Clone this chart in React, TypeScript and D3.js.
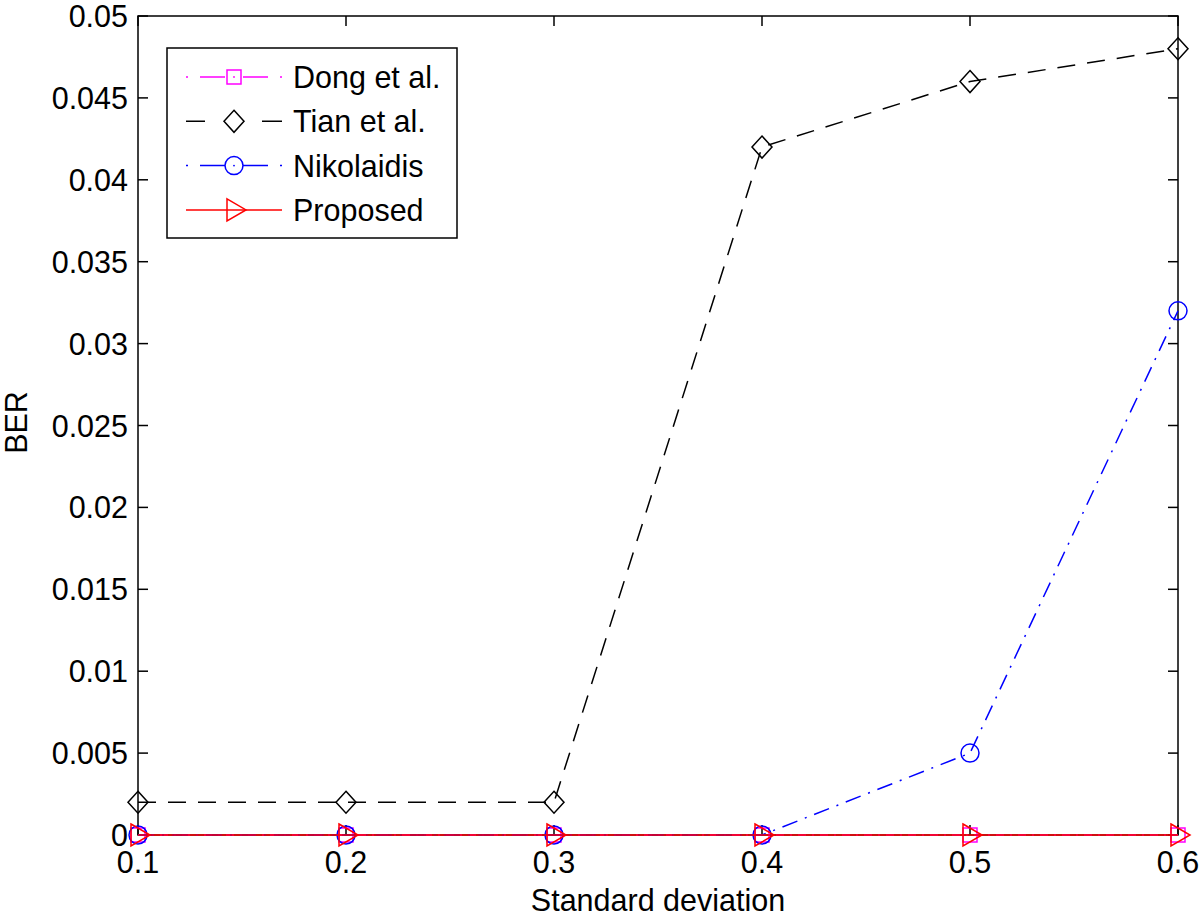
import { useEffect, useRef } from "react";
import * as d3 from "d3";

const stdDev = [0.1, 0.2, 0.3, 0.4, 0.5, 0.6];
const dong = [0, 0, 0, 0, 0, 0];
const tian = [0.002, 0.002, 0.002, 0.042, 0.046, 0.048];
const nikolaidis = [0, 0, 0, 0, 0.005, 0.032];
const proposed = [0, 0, 0, 0, 0, 0];

const xTicks = [0.1, 0.2, 0.3, 0.4, 0.5, 0.6];
const yTicks = [0, 0.005, 0.01, 0.015, 0.02, 0.025, 0.03, 0.035, 0.04, 0.045, 0.05];

const seriesNames = ["Dong et al.", "Tian et al.", "Nikolaidis", "Proposed"];

const App = () => {
  const svgRef = useRef<SVGSVGElement>(null);

  useEffect(() => {
    document.body.style.margin = "0";
    document.body.style.overflow = "hidden";

    const width = 1200;
    const height = 919;
    const margin = { top: 16, right: 22, bottom: 84, left: 138 };
    const font = "'Liberation Sans', Arial, Helvetica, sans-serif";
    const fs = 30.5;

    const svg = d3.select(svgRef.current);
    svg.selectAll("*").remove();

    const x = d3.scaleLinear().domain([0.1, 0.6]).range([margin.left, width - margin.right]);
    const y = d3.scaleLinear().domain([0, 0.05]).range([height - margin.bottom, margin.top]);

    const series = [
      { name: seriesNames[0], values: dong, color: "#ff00ff", dash: "8,6,2,6", marker: "square" },
      { name: seriesNames[1], values: tian, color: "#000000", dash: "18,12", marker: "diamond" },
      { name: seriesNames[2], values: nikolaidis, color: "#0000ff", dash: "16,8,2,8", marker: "circle" },
      { name: seriesNames[3], values: proposed, color: "#ff0000", dash: null, marker: "triangle" },
    ];

    svg.append("rect").attr("width", width).attr("height", height).attr("fill", "#fff");

    const [x0, x1] = x.range();
    const [y0, y1] = y.range();

    // ticks (inside, both sides)
    const tl = 10;
    const ticks = svg.append("g").attr("stroke", "#000").attr("stroke-width", 1.5);
    xTicks.forEach((t) => {
      ticks.append("line").attr("x1", x(t)).attr("x2", x(t)).attr("y1", y0).attr("y2", y0 - tl);
      ticks.append("line").attr("x1", x(t)).attr("x2", x(t)).attr("y1", y1).attr("y2", y1 + tl);
    });
    yTicks.forEach((t) => {
      ticks.append("line").attr("x1", x0).attr("x2", x0 + tl).attr("y1", y(t)).attr("y2", y(t));
      ticks.append("line").attr("x1", x1).attr("x2", x1 - tl).attr("y1", y(t)).attr("y2", y(t));
    });

    svg
      .append("rect")
      .attr("x", x0)
      .attr("y", y1)
      .attr("width", x1 - x0)
      .attr("height", y0 - y1)
      .attr("fill", "none")
      .attr("stroke", "#000")
      .attr("stroke-width", 1.5);

    // tick labels
    svg
      .append("g")
      .selectAll("text")
      .data(xTicks)
      .join("text")
      .attr("x", (d) => x(d))
      .attr("y", y0 + 38)
      .attr("text-anchor", "middle")
      .attr("font-family", font)
      .attr("font-size", fs)
      .text((d) => String(d));

    svg
      .append("g")
      .selectAll("text")
      .data(yTicks)
      .join("text")
      .attr("x", x0 - 10)
      .attr("y", (d) => y(d) + 11)
      .attr("text-anchor", "end")
      .attr("font-family", font)
      .attr("font-size", fs)
      .text((d) => (d === 0 ? "0" : String(+d.toFixed(3))));

    svg
      .append("text")
      .attr("x", (x0 + x1) / 2)
      .attr("y", 911)
      .attr("text-anchor", "middle")
      .attr("font-family", font)
      .attr("font-size", fs)
      .text("Standard deviation");

    svg
      .append("text")
      .attr("transform", `translate(27,${(y0 + y1) / 2 - 3}) rotate(-90)`)
      .attr("text-anchor", "middle")
      .attr("font-family", font)
      .attr("font-size", fs)
      .text("BER");

    const drawMarker = (g: any, type: string, cx: number, cy: number, color: string) => {
      const common = (s: any) => s.attr("fill", "none").attr("stroke", color).attr("stroke-width", 1.5);
      if (type === "square") {
        common(g.append("rect").attr("x", cx - 7).attr("y", cy - 7).attr("width", 14).attr("height", 14));
      } else if (type === "diamond") {
        common(g.append("path").attr("d", `M${cx},${cy - 11}L${cx + 10},${cy}L${cx},${cy + 11}L${cx - 10},${cy}Z`));
      } else if (type === "circle") {
        common(g.append("circle").attr("cx", cx).attr("cy", cy).attr("r", 9));
      } else {
        common(g.append("path").attr("d", `M${cx - 7},${cy - 11}L${cx + 12},${cy}L${cx - 7},${cy + 11}Z`));
      }
    };

    const line = d3
      .line<number>()
      .x((_, i) => x(stdDev[i]))
      .y((d) => y(d));

    series.forEach((s) => {
      const g = svg.append("g");
      g.append("path")
        .datum(s.values)
        .attr("fill", "none")
        .attr("stroke", s.color)
        .attr("stroke-width", 1.5)
        .attr("stroke-dasharray", s.dash)
        .attr("d", line);
      s.values.forEach((v, i) => drawMarker(g, s.marker, x(stdDev[i]), y(v), s.color));
    });

    // legend
    const lx = 167;
    const ly = 48;
    const lg = svg.append("g");
    lg.append("rect")
      .attr("x", lx)
      .attr("y", ly)
      .attr("width", 290)
      .attr("height", 190)
      .attr("fill", "#fff")
      .attr("stroke", "#000")
      .attr("stroke-width", 1.5);
    const legendDash = ["2,12,68,12,2", "19,57,20", "2,12,68,12,2", null];
    series.forEach((s, i) => {
      const cy = ly + 29 + i * 44.3;
      lg.append("line")
        .attr("x1", lx + 19)
        .attr("x2", lx + 115)
        .attr("y1", cy)
        .attr("y2", cy)
        .attr("stroke", s.color)
        .attr("stroke-width", 1.5)
        .attr("stroke-dasharray", legendDash[i]);
      if (s.marker === "square" || s.marker === "circle") {
        lg.append("rect").attr("x", lx + 67 - 9).attr("y", cy - 9).attr("width", 18).attr("height", 18).attr("fill", "#fff");
        lg.append("circle").attr("cx", lx + 67).attr("cy", cy).attr("r", 0.9).attr("fill", s.color);
      }
      drawMarker(lg, s.marker, lx + 67, cy, s.color);
      lg.append("text")
        .attr("x", lx + 126)
        .attr("y", cy + 11)
        .attr("font-family", font)
        .attr("font-size", fs)
        .text(s.name);
    });
  }, []);

  return <svg ref={svgRef} width={1200} height={919} style={{ display: "block" }} />;
};

export default App;
